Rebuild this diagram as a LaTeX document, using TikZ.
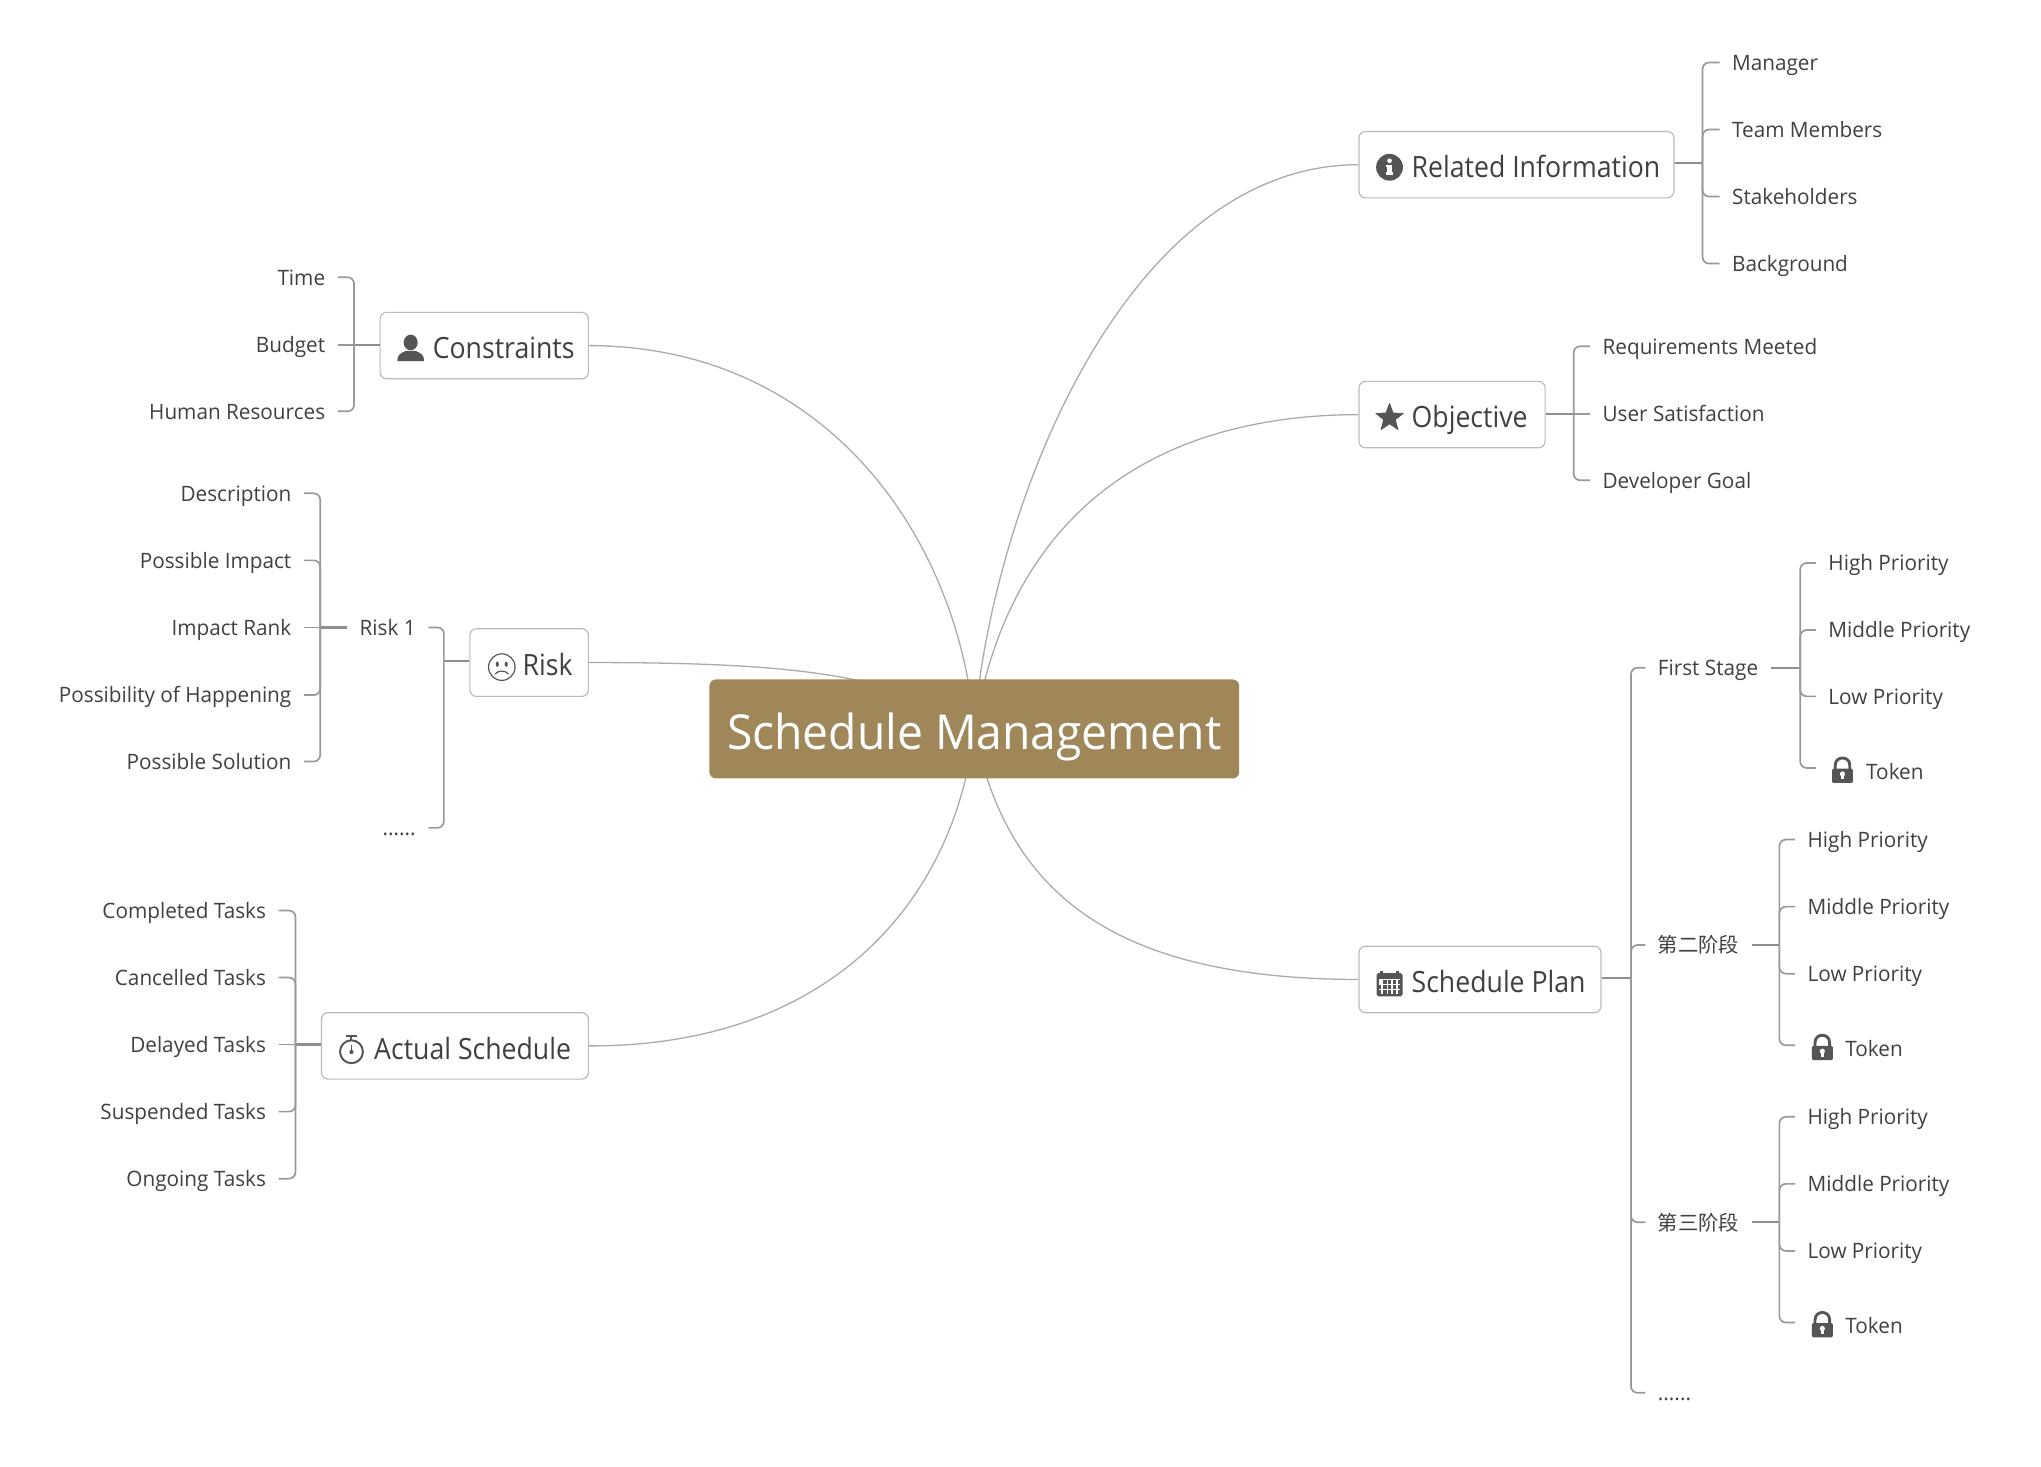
\documentclass[tikz,border=0pt]{standalone}
\usepackage{fontspec}
\setmainfont[FakeStretch=0.977]{Open Sans}
\newfontfamily\topicfont[FakeStretch=0.91]{Open Sans}
\newfontfamily\rootfont[FakeStretch=0.96]{Open Sans}
\newfontfamily\cjk{Noto Sans CJK SC}
\usetikzlibrary{backgrounds}
\definecolor{ink}{HTML}{404040}
\definecolor{iconc}{HTML}{555555}
\definecolor{rootc}{HTML}{A08759}
\definecolor{boxc}{HTML}{BBBBBB}
\definecolor{curvec}{HTML}{ABABAB}
\definecolor{branchc}{HTML}{999999}
\definecolor{stemc}{HTML}{8E8E8E}
\tikzset{
  rootnode/.style={fill=rootc,rounded corners=5pt,text=white,inner sep=0pt,font=\rootfont\fontsize{37}{40}\selectfont},
  topicnode/.style={draw=boxc,line width=0.9pt,rounded corners=5pt,fill=white,inner sep=0pt,text=ink,font=\topicfont\fontsize{22.5}{26}\selectfont},
  leaf/.style={inner xsep=9.5pt,inner ysep=0pt,text height=12pt,text depth=0pt,text=ink,font=\fontsize{16.3}{20}\selectfont},
  curve/.style={draw=curvec,line width=1pt},
  branch/.style={draw=branchc,line width=1.3pt,rounded corners=5pt},
  stem/.style={draw=stemc,line width=1.7pt},
}
\newcommand\topicbox[6]{%
  \pgfmathsetmacro\tw{#4-#2}\pgfmathsetmacro\th{#5-#3}%
  \pgfmathsetmacro\tcx{(#2+#4)/2}\pgfmathsetmacro\tcy{(#3+#5)/2}%
  \node[topicnode,minimum width=\tw pt,minimum height=\th pt] (#1) at (\tcx,\tcy)
    {\makebox[\tw pt][l]{\hspace{40.5pt}\raisebox{-9pt}{\smash{#6}}}};}
\newcommand\leafr[4]{\node[leaf,anchor=west] (#1) at (#2,#3) {#4};}
\newcommand\leafl[4]{\node[leaf,anchor=east] (#1) at (#2,#3) {#4};}
\newcommand\token[3]{\node[leaf,anchor=west] (#1) at (#2,#3) {\hspace{29pt}\raisebox{-2.5pt}{Token}};}
\newcommand\lockicon[1]{\begin{scope}[shift={(#1)}]
  \draw[iconc,line width=2.2pt] (-5.6,0) -- (-5.6,-4) .. controls (-5.6,-11.6) and (5.6,-11.6) .. (5.6,-4) -- (5.6,0);
  \fill[iconc,rounded corners=1pt] (-8,-1.5) rectangle (8,9.5);
  \fill[white] (0,2.6) circle (2);
  \fill[white] (-0.9,3) rectangle (0.9,6.8);
\end{scope}}
\begin{document}
\begin{tikzpicture}[x=1pt,y=-1pt]
\useasboundingbox (0,0) rectangle (1568,1127);
% central topic
\node[rootnode,minimum width=407pt,minimum height=76pt] (root) at (748.5,560) {\raisebox{-32pt}{\smash{Schedule Management}}};
% main topics
\topicbox{rel}{1044}{101}{1286}{152}{\raisebox{-5.6pt}{Related Information}}
\topicbox{obj}{1044}{293}{1187}{344}{\raisebox{-5.6pt}{Objective}}
\topicbox{plan}{1044}{727}{1230}{778}{\raisebox{-5.6pt}{Schedule Plan}}
\topicbox{con}{292}{240}{452}{291}{\raisebox{-5.6pt}{Constraints}}
\topicbox{risk}{361}{483}{452}{535}{\raisebox{-5.6pt}{Risk}}
\topicbox{act}{247}{778}{452}{829}{\raisebox{-5.6pt}{Actual Schedule}}
% curves
\begin{scope}[on background layer]
\draw[curve] (rel.west) .. controls (860,127) and (760,400) .. (root.center);
\draw[curve] (obj.west) .. controls (880,319) and (775,400) .. (root.center);
\draw[curve] (plan.west) .. controls (860,752) and (774,690) .. (root.center);
\draw[curve] (con.east) .. controls (640,266) and (738,420) .. (root.center);
\draw[curve] (risk.east) .. controls (590,509) and (690,515) .. (root.center);
\draw[curve] (act.east) .. controls (640,804) and (734,690) .. (root.center);
\end{scope}
% Related Information
\leafr{r1}{1321}{48}{Manager}
\leafr{r2}{1321}{99.5}{Team Members}
\leafr{r3}{1321}{151}{Stakeholders}
\leafr{r4}{1321}{202.5}{Background}
\coordinate (relb) at (1308,125.5);
\draw[stem] (rel.east |- relb) -- (relb);
\foreach \c in {r1,r2,r3,r4} \draw[branch] (\c.west) -| (relb);
% Objective
\leafr{o1}{1221.5}{266}{Requirements Meeted}
\leafr{o2}{1221.5}{318}{User Satisfaction}
\leafr{o3}{1221.5}{369}{Developer Goal}
\coordinate (objb) at (1209,318);
\draw[stem] (obj.east |- objb) -- (objb);
\draw[branch] (o2.west) -- (objb);
\foreach \c in {o1,o3} \draw[branch] (\c.west) -| (objb);
% Schedule Plan
\node[leaf,anchor=west] (s1) at (1264,513) {First Stage};
\node[leaf,anchor=west] (s2) at (1264,726) {{\cjk\fontsize{15.6}{20}\selectfont 第二阶段}};
\node[leaf,anchor=west] (s3) at (1264,939) {{\cjk\fontsize{15.6}{20}\selectfont 第三阶段}};
\node[leaf,anchor=west] (s4) at (1264,1070) {......};
\coordinate (planb) at (1253,751.5);
\draw[stem] (plan.east |- planb) -- (planb);
\foreach \c in {s1,s2,s3,s4} \draw[branch] (\c.west) -| (planb);
% First Stage
\leafr{a1}{1395}{432.5}{High Priority}
\leafr{a2}{1395}{484}{Middle Priority}
\leafr{a3}{1395}{535}{Low Priority}
\token{a4}{1395}{590}
\lockicon{1415.5,592}
\coordinate (ab) at (1383,513);
\draw[stem] (s1.east) -- (ab);
\foreach \c in {a1,a2,a3,a4} \draw[branch] (\c.west) -| (ab);
% second stage
\leafr{b1}{1379}{645}{High Priority}
\leafr{b2}{1379}{696.5}{Middle Priority}
\leafr{b3}{1379}{748}{Low Priority}
\token{b4}{1379}{803}
\lockicon{1400,805}
\coordinate (bb) at (1367,726);
\draw[stem] (s2.east) -- (bb);
\foreach \c in {b1,b2,b3,b4} \draw[branch] (\c.west) -| (bb);
% third stage
\leafr{c1}{1379}{858}{High Priority}
\leafr{c2}{1379}{909.5}{Middle Priority}
\leafr{c3}{1379}{961}{Low Priority}
\token{c4}{1379}{1016}
\lockicon{1400,1018}
\coordinate (cb) at (1367,939);
\draw[stem] (s3.east) -- (cb);
\foreach \c in {c1,c2,c3,c4} \draw[branch] (\c.west) -| (cb);
% Constraints
\leafl{k1}{259.5}{213}{Time}
\leafl{k2}{259.5}{265}{Budget}
\leafl{k3}{259.5}{316}{Human Resources}
\coordinate (conb) at (272,265);
\draw[stem] (con.west |- conb) -- (conb);
\draw[branch] (k2.east) -- (conb);
\foreach \c in {k1,k3} \draw[branch] (\c.east) -| (conb);
% Risk
\leafl{q1}{329}{482}{Risk 1}
\leafl{q2}{329}{636}{......}
\coordinate (riskb) at (341,508);
\draw[stem] (risk.west |- riskb) -- (riskb);
\foreach \c in {q1,q2} \draw[branch] (\c.east) -| (riskb);
\leafl{p1}{233.5}{379}{Description}
\leafl{p2}{233.5}{430.5}{Possible Impact}
\leafl{p3}{233.5}{482}{Impact Rank}
\leafl{p4}{233.5}{534}{Possibility of Happening}
\leafl{p5}{233.5}{585}{Possible Solution}
\coordinate (qb) at (246,482);
\draw[stem] (q1.west) -- (qb);
\draw[branch] (p3.east) -- (qb);
\foreach \c in {p1,p2,p4,p5} \draw[branch] (\c.east) -| (qb);
% Actual Schedule
\leafl{t1}{214}{699.5}{Completed Tasks}
\leafl{t2}{214}{751}{Cancelled Tasks}
\leafl{t3}{214}{802.5}{Delayed Tasks}
\leafl{t4}{214}{854}{Suspended Tasks}
\leafl{t5}{214}{905.5}{Ongoing Tasks}
\coordinate (actb) at (227,802.5);
\draw[stem] (act.west |- actb) -- (actb);
\draw[branch] (t3.east) -- (actb);
\foreach \c in {t1,t2,t4,t5} \draw[branch] (\c.east) -| (actb);
% icons: info
\begin{scope}[shift={(1067.5,128.5)}]
  \fill[iconc] (0,0) circle (10.3);
  \fill[white] (0,-5) circle (1.8);
  \fill[white] (-2.8,-2) rectangle (1.8,-0.4);
  \fill[white] (-1.6,-2) rectangle (1.8,5);
  \fill[white] (-2.8,4) rectangle (2.8,6);
\end{scope}
% star
\begin{scope}[shift={(1067.5,321)}]
  \fill[iconc,draw=iconc,line width=0.6pt,line join=round] (0,-11) -- (2.7,-3.7) -- (10.5,-3.4) -- (4.4,1.4) -- (6.5,9) -- (0,4.6) -- (-6.5,9) -- (-4.4,1.4) -- (-10.5,-3.4) -- (-2.7,-3.7) -- cycle;
\end{scope}
% calendar
\begin{scope}[shift={(1067.5,755.5)}]
  \fill[iconc,rounded corners=1.5pt] (-10,-8) rectangle (10,10);
  \fill[white] (-8.4,-3.6) rectangle (8.4,8.4);
  \fill[iconc] (-7,-9.8) rectangle (-5,-6);
  \fill[iconc] (5,-9.8) rectangle (7,-6);
  \foreach \x in {-3.8,-0.0,3.8} \foreach \y in {-2.4,1.3,5} \fill[iconc] (\x-1.5,\y) rectangle (\x+1.5,\y+2.8);
  \foreach \y in {1.3,5} \fill[iconc] (-8.4,\y) rectangle (-6.2,\y+2.8);
  \foreach \y in {-2.4,1.3,5} \fill[iconc] (6.2,\y) rectangle (8.4,\y+2.8);
\end{scope}
% person
\begin{scope}[shift={(315.5,267.5)}]
  \fill[iconc] (0,-4.4) ellipse (5.4 and 6);
  \fill[iconc] (-10.3,10) .. controls (-10.3,5) and (-8,4) .. (-3.6,2) -- (3.6,2) .. controls (8,4) and (10.3,5) .. (10.3,10) -- cycle;
\end{scope}
% sad face
\begin{scope}[shift={(385.5,512.5)}]
  \draw[iconc,line width=0.9pt] (0,0) circle (10.2);
  \fill[iconc] (-3.4,-2.2) ellipse (1.2 and 2);
  \fill[iconc] (3.4,-2.2) ellipse (1.2 and 2);
  \draw[iconc,line width=0.9pt] (-5.2,5.3) .. controls (-2.5,2.3) and (2.5,2.3) .. (5.2,5.3);
\end{scope}
% stopwatch
\begin{scope}[shift={(270,807)}]
  \draw[iconc,line width=1.5pt] (0,1) circle (8.8);
  \draw[iconc,line width=1.5pt] (-4.2,-11) -- (4.2,-11);
  \draw[iconc,line width=1.5pt] (0,-11) -- (0,-7.5);
  \draw[iconc,line width=1.2pt] (0,-4.5) -- (0,1);
  \fill[iconc] (0,1.2) circle (1.6);
\end{scope}
\end{tikzpicture}
\end{document}
